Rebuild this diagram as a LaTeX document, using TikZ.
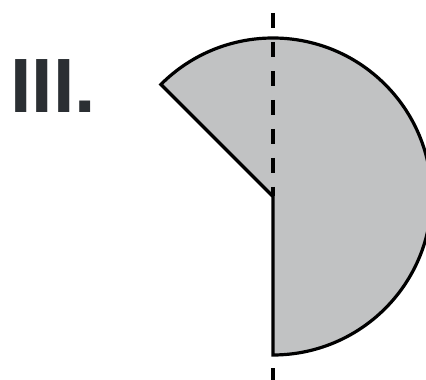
\documentclass[tikz,border=0pt]{standalone}
\usepackage{fontspec}
\setmainfont{Liberation Sans}
\usetikzlibrary{calc}
\definecolor{shadegray}{RGB}{193,194,195}
\definecolor{labelgray}{RGB}{43,47,51}
\tikzset{
  sector/.style={fill=shadegray, draw=black, line width=3.2pt},
  axisline/.style={draw=black, line width=3.2pt, dash pattern=on 15pt off 14pt}
}

\begin{document}
\begin{tikzpicture}[x=1pt,y=1pt]
	\useasboundingbox (0,0) rectangle (426,380);
	\coordinate (center) at (273,183.5);
	\coordinate (rim) at ($(center) + (135:158.5)$);
	\coordinate (rimbottom) at ($(center) + (0,-158.5)$);
	\coordinate (axistop) at ($(center) + (0,183.5)$);
	\coordinate (axisbottom) at ($(center) + (0,-183.5)$);

	% shaded sector
	\draw[sector] (center) -- (rim) arc[start angle=135, end angle=-90, radius=158.5] -- cycle;

	% symmetry axis
	\draw[axisline] (axistop) -- (center);
	\draw[axisline, dash pattern=on 12pt off 20pt] (axisbottom) -- (rimbottom);

	\node[anchor=base west, inner sep=0pt, text=labelgray, font=\fontsize{77}{77}\selectfont\bfseries] (label) at (10,267) {III.};
\end{tikzpicture}
\end{document}
